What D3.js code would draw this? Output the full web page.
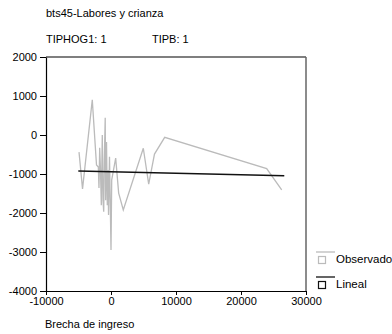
<!DOCTYPE html>
<html>
<head>
<meta charset="utf-8">
<script src="https://cdn.jsdelivr.net/npm/d3@7"></script>
<style>
  body { margin: 0; background: #fff; }
  svg { font-family: "Liberation Sans", Arial, sans-serif; }
</style>
</head>
<body>
<div id="chart"></div>
<script>
// observed series (Brecha de ingreso, value)
const obsX = [-4920, -4380, -2880, -2230, -1950, -1850, -1740, -1620, -1490, -1340, -1230, -1120, -1030, -890, -820, -690, -570, -460, -380, -230, -120, 0, 110, 720, 1180, 1890, 4970, 5800, 6690, 8260, 23950, 26260];
const obsY = [-440, -1380, 900, -770, -820, -1360, -330, -900, -1800, 0, -1670, -1970, -640, 440, -1670, -180, -1800, -900, -2050, -560, -1670, -2950, -1150, -590, -1490, -1920, -340, -1260, -490, -60, -860, -1410];
// linear fit endpoints
const fitX = [-5030, 26660];
const fitY = [-925, -1045];

const xTicks = [-10000, 0, 10000, 20000, 30000];
const yTicks = [-4000, -3000, -2000, -1000, 0, 1000, 2000];

const W = 392, H = 334;
const margin = { top: 57, right: 86, bottom: 43, left: 46 };
const width = W - margin.left - margin.right;
const height = H - margin.top - margin.bottom;

const svg = d3.select("#chart").append("svg")
    .attr("width", W)
    .attr("height", H);

svg.append("text").attr("x", 46).attr("y", 17)
    .style("font-size", "11px").text("bts45-Labores y crianza");
svg.append("text").attr("x", 46).attr("y", 43)
    .style("font-size", "11px").text("TIPHOG1: 1");
svg.append("text").attr("x", 152).attr("y", 43)
    .style("font-size", "11px").text("TIPB: 1");

const g = svg.append("g")
    .attr("transform", `translate(${margin.left},${margin.top})`);

const x = d3.scaleLinear().domain([-10000, 30000]).range([0, width]);
const y = d3.scaleLinear().domain([-4000, 2000]).range([height, 0]);

// frame
g.append("line").attr("x1", 0).attr("x2", width).attr("y1", 0).attr("y2", 0)
    .attr("stroke", "#000").attr("stroke-width", 1.2);
g.append("line").attr("x1", width).attr("x2", width).attr("y1", 0).attr("y2", height)
    .attr("stroke", "#666").attr("stroke-width", 1.5);

const fmt = d => String(d);
const gx = g.append("g")
    .attr("transform", `translate(0,${height})`)
    .call(d3.axisBottom(x).tickValues(xTicks).tickFormat(fmt).tickSize(4).tickSizeOuter(0).tickPadding(2));
const gy = g.append("g")
    .call(d3.axisLeft(y).tickValues(yTicks).tickFormat(fmt).tickSize(6).tickSizeOuter(0).tickPadding(3));

[gx, gy].forEach(a => {
    a.select(".domain").attr("stroke", "#000").attr("stroke-width", 1.2);
    a.selectAll(".tick line").attr("stroke", "#000");
    a.selectAll("text").style("font-size", "11px")
        .style("font-family", "'Liberation Sans', Arial, sans-serif").attr("fill", "#000");
});

const obs = obsX.map((v, i) => [v, obsY[i]]);
const fit = fitX.map((v, i) => [v, fitY[i]]);
const line = d3.line().x(d => x(d[0])).y(d => y(d[1]));

g.append("path").datum(obs)
    .attr("d", line)
    .attr("fill", "none")
    .attr("stroke", "#bbbbbb")
    .attr("stroke-width", 1.3)
    .attr("stroke-linejoin", "miter");

g.append("path").datum(fit)
    .attr("d", line)
    .attr("fill", "none")
    .attr("stroke", "#111")
    .attr("stroke-width", 1.5);

svg.append("text").attr("x", 45).attr("y", 328)
    .style("font-size", "11px").text("Brecha de ingreso");

// legend
const legend = [
    { name: "Observado", color: "#bbbbbb", y: 252 },
    { name: "Lineal", color: "#111", y: 277 }
];
const lg = svg.append("g").selectAll("g").data(legend).enter().append("g");
lg.append("line")
    .attr("x1", 316).attr("x2", 335)
    .attr("y1", d => d.y).attr("y2", d => d.y)
    .attr("stroke", d => d.color).attr("stroke-width", 1.3);
lg.append("rect")
    .attr("x", 318.5).attr("y", d => d.y + 4.5)
    .attr("width", 7).attr("height", 7)
    .attr("fill", "#fff")
    .attr("stroke", d => d.color).attr("stroke-width", 1.2);
lg.append("text")
    .attr("x", 336).attr("y", d => d.y + 11)
    .style("font-size", "11.5px")
    .text(d => d.name);
</script>
</body>
</html>
